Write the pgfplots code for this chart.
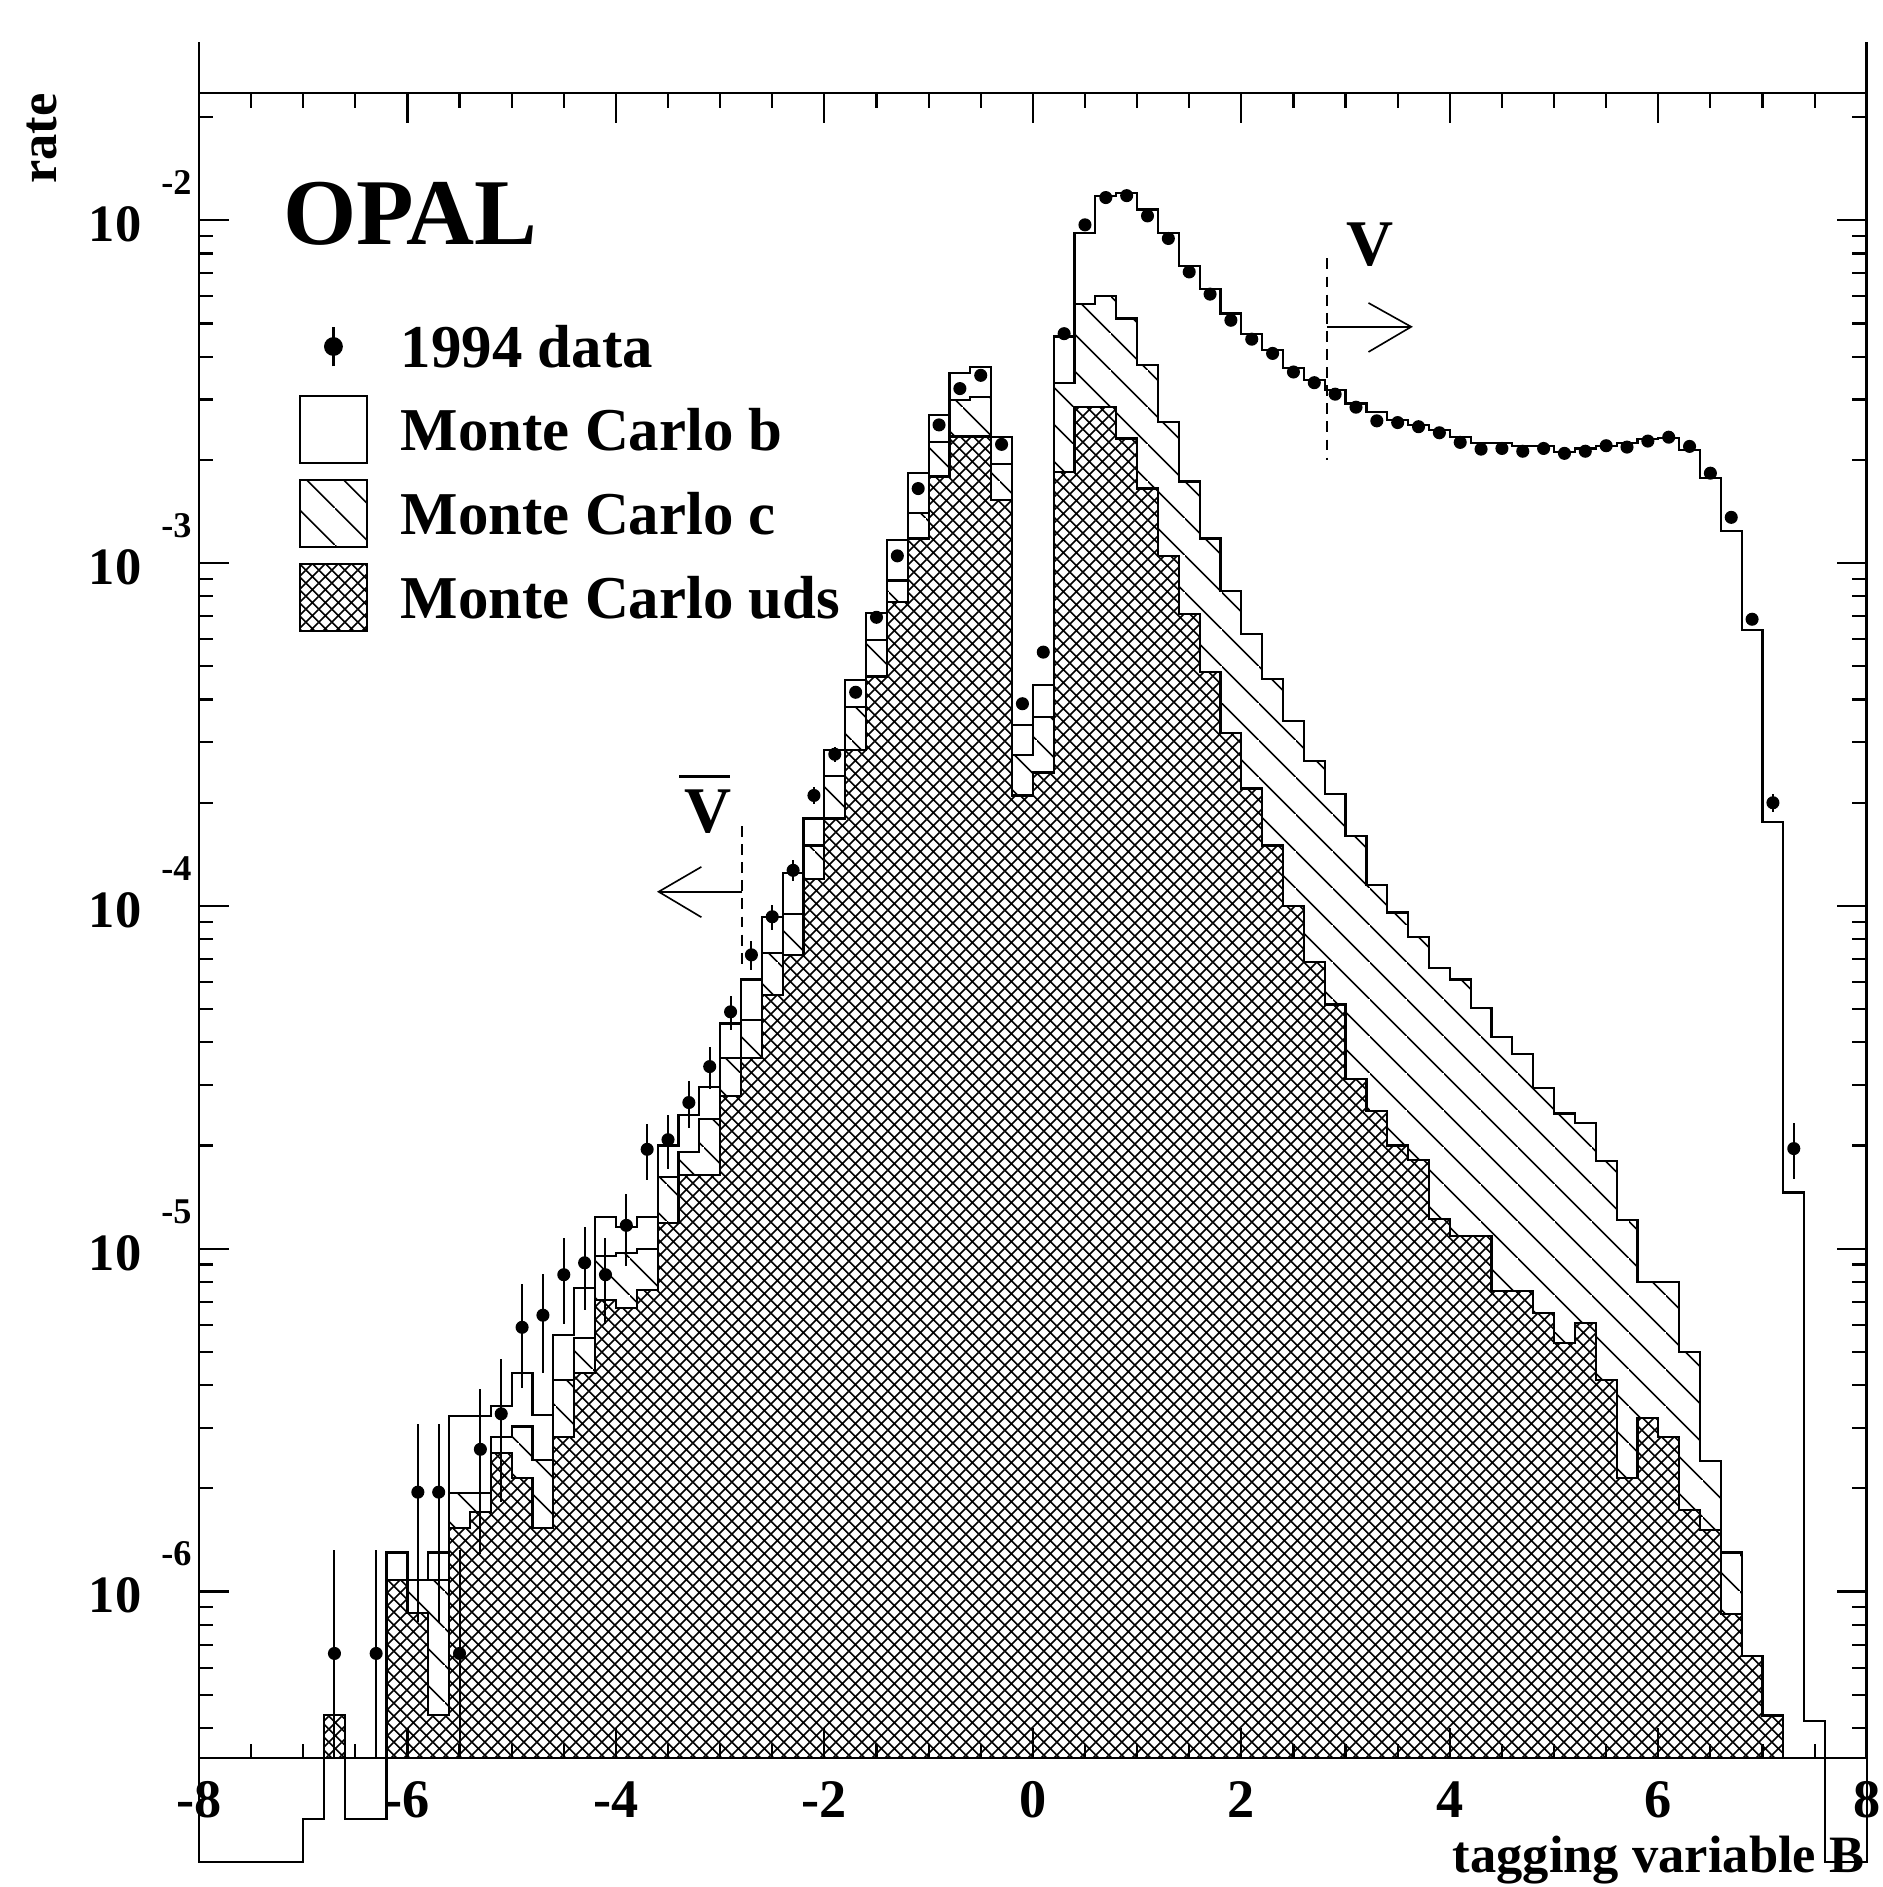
\documentclass[border=0pt]{standalone}
\usepackage{fontspec}
\setmainfont{Liberation Serif}
\usepackage{pgfplots}
\pgfplotsset{compat=1.18}
\usepackage{pgfplotstable}
\usetikzlibrary{patterns}

\pgfdeclarepatternformonly{mycross}{\pgfqpoint{0pt}{0pt}}{\pgfqpoint{3.68pt}{3.68pt}}{\pgfqpoint{3.68pt}{3.68pt}}{%
  \pgfsetlinewidth{0.45pt}%
  \pgfpathmoveto{\pgfqpoint{0pt}{0pt}}\pgfpathlineto{\pgfqpoint{3.68pt}{3.68pt}}%
  \pgfpathmoveto{\pgfqpoint{0pt}{3.68pt}}\pgfpathlineto{\pgfqpoint{3.68pt}{0pt}}%
  \pgfusepath{stroke}}
\pgfdeclarepatternformonly{mynw}{\pgfqpoint{0pt}{0pt}}{\pgfqpoint{10.3pt}{10.3pt}}{\pgfqpoint{10.3pt}{10.3pt}}{%
  \pgfsetlinewidth{0.45pt}%
  \pgfpathmoveto{\pgfqpoint{0pt}{10.3pt}}\pgfpathlineto{\pgfqpoint{10.3pt}{0pt}}%
  \pgfusepath{stroke}}

\newcommand{\ylab}[1]{\fontsize{14.5}{15}\selectfont\bfseries 10\hspace{5.5pt}\raisebox{13pt}{\fontsize{10}{11}\selectfont\bfseries -#1}}

% bin left edge, total (b+c+uds, clamped to axis floor), c+uds, uds
\pgfplotstableread{
x T C U
-8.0 3.27e-7 3.27e-7 3.27e-7
-6.8 4.37e-7 4.37e-7 4.37e-7
-6.6 3.27e-7 3.27e-7 3.27e-7
-6.2 1.30e-6 1.08e-6 1.08e-6
-6.0 1.08e-6 1.08e-6 8.65e-7
-5.8 1.30e-6 1.08e-6 4.37e-7
-5.6 3.26e-6 1.94e-6 1.53e-6
-5.4 3.26e-6 1.94e-6 1.71e-6
-5.2 3.47e-6 2.83e-6 2.54e-6
-5.0 4.34e-6 3.03e-6 2.14e-6
-4.8 3.28e-6 2.42e-6 1.53e-6
-4.6 5.6e-6 4.15e-6 2.83e-6
-4.4 7.67e-6 5.5e-6 4.34e-6
-4.2 1.24e-5 9.5e-6 7.1e-6
-4.0 1.16e-5 9.7e-6 6.7e-6
-3.8 1.24e-5 1.0e-5 7.6e-6
-3.6 2.0e-5 1.62e-5 1.19e-5
-3.4 2.45e-5 1.92e-5 1.64e-5
-3.2 2.97e-5 2.39e-5 1.64e-5
-3.0 4.54e-5 3.6e-5 2.79e-5
-2.8 6.1e-5 4.66e-5 3.6e-5
-2.6 9.3e-5 7.3e-5 5.5e-5
-2.4 1.25e-4 9.45e-5 7.2e-5
-2.2 1.8e-4 1.5e-4 1.2e-4
-2.0 2.85e-4 2.39e-4 1.8e-4
-1.8 4.56e-4 3.81e-4 2.85e-4
-1.6 7.16e-4 5.97e-4 4.67e-4
-1.4 1.17e-3 8.9e-4 7.71e-4
-1.2 1.83e-3 1.4e-3 1.18e-3
-1.0 2.7e-3 2.26e-3 1.79e-3
-0.8 3.58e-3 2.99e-3 2.34e-3
-0.6 3.74e-3 3.06e-3 2.34e-3
-0.4 2.33e-3 1.95e-3 1.53e-3
-0.2 3.37e-4 2.75e-4 2.1e-4
0.0 4.42e-4 3.56e-4 2.45e-4
0.2 4.58e-3 3.35e-3 1.84e-3
0.4 9.16e-3 5.71e-3 2.86e-3
0.6 1.175e-2 6.0e-3 2.86e-3
0.8 1.2e-2 5.17e-3 2.31e-3
1.0 1.075e-2 3.78e-3 1.65e-3
1.2 9.16e-3 2.58e-3 1.05e-3
1.4 7.35e-3 1.73e-3 7.1e-4
1.6 6.32e-3 1.18e-3 4.8e-4
1.8 5.35e-3 8.3e-4 3.2e-4
2.0 4.67e-3 6.2e-4 2.2e-4
2.2 4.18e-3 4.6e-4 1.5e-4
2.4 3.7e-3 3.46e-4 1.0e-4
2.6 3.42e-3 2.64e-4 6.86e-5
2.8 3.2e-3 2.12e-4 5.16e-5
3.0 2.92e-3 1.6e-4 3.13e-5
3.2 2.76e-3 1.15e-4 2.52e-5
3.4 2.61e-3 9.57e-5 2.0e-5
3.6 2.53e-3 8.1e-5 1.82e-5
3.8 2.44e-3 6.6e-5 1.22e-5
4.0 2.33e-3 6.1e-5 1.09e-5
4.2 2.24e-3 5.04e-5 1.09e-5
4.4 2.24e-3 4.15e-5 7.55e-6
4.6 2.19e-3 3.7e-5 7.55e-6
4.8 2.19e-3 2.94e-5 6.5e-6
5.0 2.11e-3 2.48e-5 5.3e-6
5.2 2.16e-3 2.33e-5 6.07e-6
5.4 2.2e-3 1.8e-5 4.14e-6
5.6 2.24e-3 1.21e-5 2.15e-6
5.8 2.3e-3 8.0e-6 3.2e-6
6.0 2.32e-3 8.0e-6 2.83e-6
6.2 2.14e-3 5.0e-6 1.73e-6
6.4 1.77e-3 2.4e-6 1.51e-6
6.6 1.24e-3 1.3e-6 8.6e-7
6.8 6.37e-4 6.5e-7 6.5e-7
7.0 1.76e-4 4.35e-7 4.35e-7
7.2 1.46e-5 3.27e-7 3.27e-7
7.4 4.2e-7 3.27e-7 3.27e-7
7.6 3.27e-7 3.27e-7 3.27e-7
8.0 3.27e-7 3.27e-7 3.27e-7
}\hist

% outline of the total (Monte Carlo b stacked on c and uds), as printed
\pgfplotstableread{
x y
-8.0 3.27e-7
-8.0 1.63e-7
-7.0 2.17e-7
-6.8 4.37e-7
-6.6 2.17e-7
-6.2 1.30e-6
-6.0 1.08e-6
-5.8 1.30e-6
-5.6 3.26e-6
-5.4 3.26e-6
-5.2 3.47e-6
-5.0 4.34e-6
-4.8 3.28e-6
-4.6 5.6e-6
-4.4 7.67e-6
-4.2 1.24e-5
-4.0 1.16e-5
-3.8 1.24e-5
-3.6 2.0e-5
-3.4 2.45e-5
-3.2 2.97e-5
-3.0 4.54e-5
-2.8 6.1e-5
-2.6 9.3e-5
-2.4 1.25e-4
-2.2 1.8e-4
-2.0 2.85e-4
-1.8 4.56e-4
-1.6 7.16e-4
-1.4 1.17e-3
-1.2 1.83e-3
-1.0 2.7e-3
-0.8 3.58e-3
-0.6 3.74e-3
-0.4 2.33e-3
-0.2 3.37e-4
0.0 4.42e-4
0.2 4.58e-3
0.4 9.16e-3
0.6 1.175e-2
0.8 1.2e-2
1.0 1.075e-2
1.2 9.16e-3
1.4 7.35e-3
1.6 6.32e-3
1.8 5.35e-3
2.0 4.67e-3
2.2 4.18e-3
2.4 3.7e-3
2.6 3.42e-3
2.8 3.2e-3
3.0 2.92e-3
3.2 2.76e-3
3.4 2.61e-3
3.6 2.53e-3
3.8 2.44e-3
4.0 2.33e-3
4.2 2.24e-3
4.4 2.24e-3
4.6 2.19e-3
4.8 2.19e-3
5.0 2.11e-3
5.2 2.16e-3
5.4 2.2e-3
5.6 2.24e-3
5.8 2.3e-3
6.0 2.32e-3
6.2 2.14e-3
6.4 1.77e-3
6.6 1.24e-3
6.8 6.37e-4
7.0 1.76e-4
7.2 1.46e-5
7.4 4.2e-7
7.6 1.63e-7
8.0 1.63e-7
8.0 3.27e-7
}\tout

\pgfplotstableread{
x y ep em
-6.7 6.6e-7 6.6e-7 3.3e-7
-6.3 6.6e-7 6.6e-7 3.3e-7
-5.9 1.95e-6 1.134e-6 1.134e-6
-5.7 1.95e-6 1.134e-6 1.134e-6
-5.5 6.6e-7 6.6e-7 3.3e-7
-5.3 2.6e-6 1.31e-6 1.31e-6
-5.1 3.3e-6 1.476e-6 1.476e-6
-4.9 5.9e-6 1.973e-6 1.973e-6
-4.7 6.4e-6 2.06e-6 2.06e-6
-4.5 8.4e-6 2.35e-6 2.35e-6
-4.3 9.1e-6 2.45e-6 2.45e-6
-4.1 8.4e-6 2.35e-6 2.35e-6
-3.9 1.17e-5 2.78e-6 2.78e-6
-3.7 1.95e-5 3.59e-6 3.59e-6
-3.5 2.08e-5 3.7e-6 3.7e-6
-3.3 2.67e-5 4.2e-6 4.2e-6
-3.1 3.4e-5 4.74e-6 4.74e-6
-2.9 4.91e-5 5.69e-6 5.69e-6
-2.7 7.2e-5 6.89e-6 6.89e-6
-2.5 9.3e-5 7.83e-6 7.83e-6
-2.3 1.27e-4 9.16e-6 9.16e-6
-2.1 2.1e-4 1.18e-5 1.18e-5
-1.9 2.77e-4 1.35e-5 1.35e-5
-1.7 4.2e-4 1.66e-5 1.66e-5
-1.5 6.95e-4 2.14e-5 2.14e-5
-1.3 1.05e-3 2.63e-5 2.63e-5
-1.1 1.65e-3 3.3e-5 3.3e-5
-0.9 2.53e-3 4.09e-5 4.09e-5
-0.7 3.23e-3 4.62e-5 4.62e-5
-0.5 3.53e-3 4.83e-5 4.83e-5
-0.3 2.22e-3 3.83e-5 3.83e-5
-0.1 3.89e-4 1.6e-5 1.6e-5
0.1 5.5e-4 1.9e-5 1.9e-5
0.3 4.67e-3 5.55e-5 5.55e-5
0.5 9.7e-3 8.0e-5 8.0e-5
0.7 1.165e-2 8.77e-5 8.77e-5
0.9 1.18e-2 8.83e-5 8.83e-5
1.1 1.03e-2 8.2e-5 8.2e-5
1.3 8.85e-3 7.6e-5 7.6e-5
1.5 7.07e-3 6.8e-5 6.8e-5
1.7 6.09e-3 6.3e-5 6.3e-5
1.9 5.11e-3 5.8e-5 5.8e-5
2.1 4.5e-3 5.4e-5 5.4e-5
2.3 4.09e-3 5.2e-5 5.2e-5
2.5 3.61e-3 4.9e-5 4.9e-5
2.7 3.36e-3 4.7e-5 4.7e-5
2.9 3.11e-3 4.5e-5 4.5e-5
3.1 2.85e-3 4.3e-5 4.3e-5
3.3 2.6e-3 4.1e-5 4.1e-5
3.5 2.57e-3 4.1e-5 4.1e-5
3.7 2.5e-3 4.1e-5 4.1e-5
3.9 2.4e-3 4.0e-5 4.0e-5
4.1 2.25e-3 3.9e-5 3.9e-5
4.3 2.15e-3 3.8e-5 3.8e-5
4.5 2.16e-3 3.8e-5 3.8e-5
4.7 2.12e-3 3.7e-5 3.7e-5
4.9 2.16e-3 3.8e-5 3.8e-5
5.1 2.09e-3 3.7e-5 3.7e-5
5.3 2.12e-3 3.7e-5 3.7e-5
5.5 2.2e-3 3.8e-5 3.8e-5
5.7 2.18e-3 3.8e-5 3.8e-5
5.9 2.27e-3 3.9e-5 3.9e-5
6.1 2.33e-3 3.9e-5 3.9e-5
6.3 2.19e-3 3.8e-5 3.8e-5
6.5 1.83e-3 3.5e-5 3.5e-5
6.7 1.36e-3 3.0e-5 3.0e-5
6.9 6.86e-4 2.1e-5 2.1e-5
7.1 2.0e-4 1.15e-5 1.15e-5
7.3 1.96e-5 3.6e-6 3.6e-6
}\data

\begin{document}
\begin{tikzpicture}
\begin{axis}[
  scale only axis, width=460.6pt, height=459.8pt,
  ymode=log, log origin y=infty,
  xmin=-8, xmax=8, ymin=3.27e-7, ymax=2.35e-2,
  clip=false, axis on top,
  xtick={-8,-6,-4,-2,0,2,4,6,8},
  xticklabels={-8,-6,-4,-2,0,2,4,6,8},
  minor x tick num=3,
  ytick={1e-6,1e-5,1e-4,1e-3,1e-2},
  yticklabels={\ylab{6},\ylab{5},\ylab{4},\ylab{3},\ylab{2}},
  minor ytick={4e-7,5e-7,6e-7,7e-7,8e-7,9e-7,2e-6,3e-6,4e-6,5e-6,6e-6,7e-6,8e-6,9e-6,2e-5,3e-5,4e-5,5e-5,6e-5,7e-5,8e-5,9e-5,2e-4,3e-4,4e-4,5e-4,6e-4,7e-4,8e-4,9e-4,2e-3,3e-3,4e-3,5e-3,6e-3,7e-3,8e-3,9e-3,2e-2},
  major tick length=8.3pt, minor tick length=4pt,
  tick style={line width=0.6pt, black},
  axis line style={line width=0.7pt},
  xticklabel style={font=\fontsize{15}{16}\selectfont\bfseries, anchor=base, yshift=-16.3pt, inner sep=0pt},
  yticklabel style={anchor=base east, xshift=-1.85pt, yshift=-5.9pt, inner sep=0pt},
  xlabel={tagging variable B},
  xlabel style={at={(rel axis cs:1,0)}, anchor=base east, yshift=-31.5pt, xshift=-0.5pt, inner sep=0pt, font=\fontsize{14.5}{16}\selectfont\bfseries},
  ylabel={rate},
  ylabel style={at={(rel axis cs:-0.0944,0.9727)}, anchor=center, inner sep=0pt, font=\fontsize{14.5}{16}\selectfont\bfseries},
  legend cell align=left,
  legend style={at={(rel axis cs:0.0597,0.8679)}, anchor=north west,
    draw=none, fill=none, inner sep=0pt, outer sep=0pt,
    font=\fontsize{16.8}{18}\selectfont\bfseries,
    row sep=4.1pt,
    nodes={inner sep=0pt, outer sep=0pt, text depth=0pt},
    /tikz/every odd column/.append style={column sep=9pt}},
]
\addlegendimage{legend image code/.code={%
  \path[draw=none, fill=none] (0pt,-9.25pt) rectangle (18.7pt,9.25pt);
  \draw[line width=0.6pt, black] (9.35pt,-5.5pt) -- (9.35pt,5.5pt);
  \fill[black] (9.35pt,0pt) circle (2.4pt);}}
\addlegendentry{1994 data}
\addlegendimage{legend image code/.code={%
  \draw[line width=0.6pt, black, fill=white] (0pt,-9.25pt) rectangle (18.7pt,9.25pt);}}
\addlegendentry{Monte Carlo b}
\addlegendimage{legend image code/.code={%
  \draw[line width=0.6pt, black, pattern=mynw] (0pt,-9.25pt) rectangle (18.7pt,9.25pt);}}
\addlegendentry{Monte Carlo c}
\addlegendimage{legend image code/.code={%
  \draw[line width=0.6pt, black, pattern=mycross] (0pt,-9.25pt) rectangle (18.7pt,9.25pt);}}
\addlegendentry{Monte Carlo uds}

% total (white)
\addplot[const plot, fill=white, draw=none, forget plot] table[x=x,y=T] {\hist} \closedcycle;
% c + uds (diagonal hatching)
\addplot[const plot, draw=black, line width=0.6pt, pattern=mynw, forget plot] table[x=x,y=C] {\hist} \closedcycle;
% uds (white base, then cross hatching)
\addplot[const plot, fill=white, draw=none, forget plot] table[x=x,y=U] {\hist} \closedcycle;
\addplot[const plot, draw=black, line width=0.6pt, pattern=mycross, forget plot] table[x=x,y=U] {\hist} \closedcycle;
% total outline
\addplot[const plot, draw=black, line width=0.6pt, forget plot] table[x=x,y=y] {\tout};
% data
\addplot[only marks, mark=*, mark size=1.6pt, black, forget plot,
  error bars/.cd, y dir=both, y explicit, error mark=none,
  error bar style={line width=0.55pt, black}]
  table[x=x,y=y,y error plus=ep,y error minus=em] {\data};

% annotations
\node[font=\fontsize{26}{28}\selectfont\bfseries, anchor=base, inner sep=0pt] at (rel axis cs:0.1268,0.9093) {OPAL};
\node[font=\fontsize{18}{20}\selectfont\bfseries, inner sep=0pt] at (axis cs:3.23,8.5e-3) {V};
\draw[line width=0.5pt, dash pattern=on 3pt off 2pt] (axis cs:2.82,7.74e-3) -- (axis cs:2.82,2.0e-3);
\draw[line width=0.45pt] (axis cs:2.82,4.89e-3) -- (axis cs:3.63,4.89e-3);
\draw[line width=0.45pt] (axis cs:3.22,5.74e-3) -- (axis cs:3.63,4.89e-3) -- (axis cs:3.22,4.13e-3);
\node[font=\fontsize{18}{20}\selectfont\bfseries, inner sep=0pt] at (axis cs:-3.12,1.88e-4) {V};
\draw[line width=0.85pt] (axis cs:-3.39,2.38e-4) -- (axis cs:-2.91,2.38e-4);
\draw[line width=0.5pt, dash pattern=on 3pt off 2pt] (axis cs:-2.79,1.71e-4) -- (axis cs:-2.79,6.76e-5);
\draw[line width=0.45pt] (axis cs:-2.79,1.1e-4) -- (axis cs:-3.59,1.1e-4);
\draw[line width=0.45pt] (axis cs:-3.18,1.3e-4) -- (axis cs:-3.59,1.1e-4) -- (axis cs:-3.18,9.27e-5);
% axis lines extending above the frame
\draw[line width=0.7pt] (rel axis cs:0,1) -- (rel axis cs:0,1.0306);
\draw[line width=0.7pt] (rel axis cs:1,1) -- (rel axis cs:1,1.0306);
\path (rel axis cs:-0.1193,-0.0775) rectangle (rel axis cs:1.0096,1.0559);
\end{axis}
\end{tikzpicture}
\end{document}
